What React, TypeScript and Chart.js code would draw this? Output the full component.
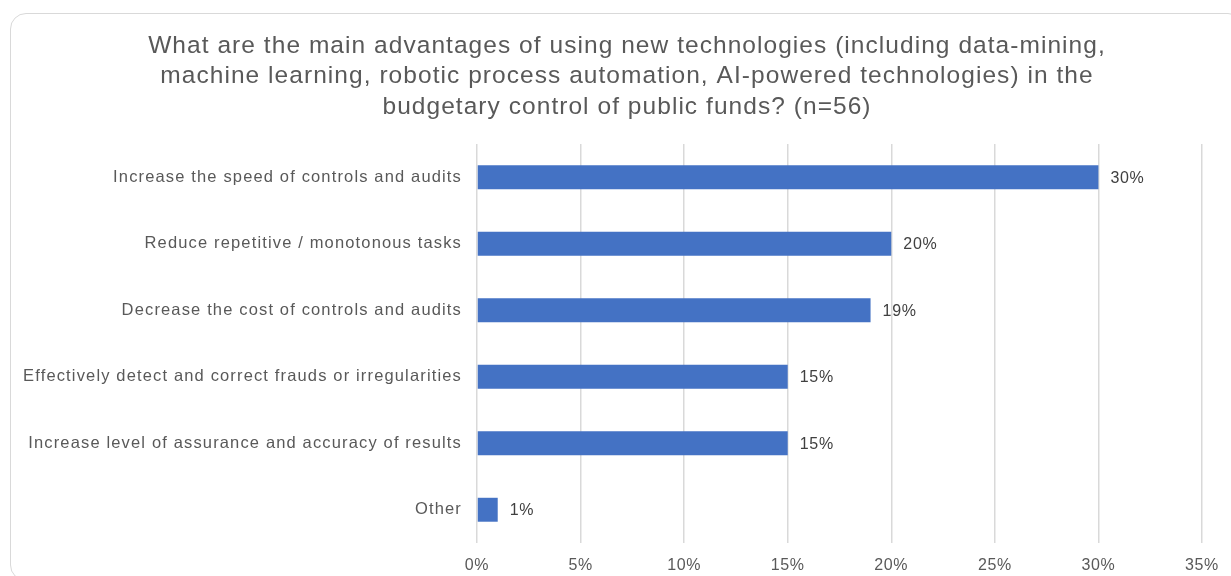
import React, { useEffect, useRef } from "react";
import { Chart, registerables } from "chart.js";

Chart.register(...registerables);

const titleLines = [
  "What are the main advantages of using new technologies (including data-mining,",
  "machine learning, robotic process automation, AI-powered technologies) in the",
  "budgetary control of public funds? (n=56)",
];

const categories = [
  "Increase the speed of controls and audits",
  "Reduce repetitive / monotonous tasks",
  "Decrease the cost of controls and audits",
  "Effectively detect and correct frauds or irregularities",
  "Increase level of assurance and accuracy of results",
  "Other",
];

const values = [30, 20, 19, 15, 15, 1];

const axisMin = 0;
const axisMax = 35;
const axisStep = 5;

const FONT = '"Liberation Sans", Arial, sans-serif';

const spacingPlugin = {
  id: "letterSpacing",
  beforeDraw(chart: any) {
    chart.ctx.letterSpacing = "0.6px";
  },
  beforeDatasetsDraw(chart: any) {
    chart.ctx.letterSpacing = "1.15px";
  },
};

const titlePlugin = {
  id: "customTitle",
  afterDraw(chart: any) {
    const ctx = chart.ctx;
    ctx.save();
    ctx.letterSpacing = "1.05px";
    ctx.font = `24.5px ${FONT}`;
    ctx.fillStyle = "#595959";
    ctx.textAlign = "center";
    ctx.textBaseline = "alphabetic";
    titleLines.forEach((line, i) => {
      ctx.fillText(line, 627, 52.5 + i * 30.5);
    });
    ctx.restore();
  },
};

const dataLabelPlugin = {
  id: "valueLabels",
  afterDatasetsDraw(chart: any) {
    const ctx = chart.ctx;
    const meta = chart.getDatasetMeta(0);
    ctx.save();
    ctx.letterSpacing = "0.7px";
    ctx.font = `16px ${FONT}`;
    ctx.fillStyle = "#404040";
    ctx.textAlign = "left";
    ctx.textBaseline = "middle";
    meta.data.forEach((el: any, i: number) => {
      ctx.fillText(values[i] + "%", el.x + 12, el.y + 1);
    });
    ctx.restore();
  },
};

export default function App() {
  const ref = useRef<HTMLCanvasElement>(null);

  useEffect(() => {
    if (!ref.current) return;
    const chart = new Chart(ref.current, {
      type: "bar",
      data: {
        labels: categories,
        datasets: [
          {
            data: values,
            backgroundColor: "#4472C4",
            borderWidth: 0,
            categoryPercentage: 1,
            barPercentage: 0.36,
          },
        ],
      },
      options: {
        indexAxis: "y",
        responsive: false,
        animation: false,
        layout: { padding: { left: 10, right: 28, top: 144, bottom: 0 } },
        plugins: {
          legend: { display: false },
          title: { display: false },
          tooltip: { enabled: false },
        },
        scales: {
          x: {
            min: axisMin,
            max: axisMax,
            ticks: {
              stepSize: axisStep,
              padding: 13,
              color: "#595959",
              font: { family: FONT, size: 16 },
              callback: (v: any) => v + "%",
            },
            grid: { color: "#d9d9d9", lineWidth: 1.5, drawTicks: false },
            border: { display: false },
            afterFit: (scale: any) => {
              scale.height = 33;
            },
          },
          y: {
            ticks: {
              z: 1,
              padding: 15,
              color: "#595959",
              font: { family: FONT, size: 16.5 },
            },
            grid: { display: false, drawTicks: false },
            border: { display: false },
            afterFit: (scale: any) => {
              scale.width = 467;
            },
          },
        },
      },
      plugins: [spacingPlugin, titlePlugin, dataLabelPlugin],
    });
    return () => chart.destroy();
  }, []);

  return (
    <div
      style={{
        position: "absolute",
        left: 0,
        top: 0,
        width: 1231,
        height: 576,
        overflow: "hidden",
        background: "#ffffff",
      }}
    >
      <div
        style={{
          position: "absolute",
          left: 10,
          top: 13,
          width: 1234,
          height: 568,
          border: "1.5px solid #d9d9d9",
          borderRadius: 16,
          boxSizing: "border-box",
        }}
      />
      <canvas
        ref={ref}
        width={1231}
        height={576}
        style={{ position: "absolute", left: 0, top: 0, width: 1231, height: 576 }}
      />
    </div>
  );
}
